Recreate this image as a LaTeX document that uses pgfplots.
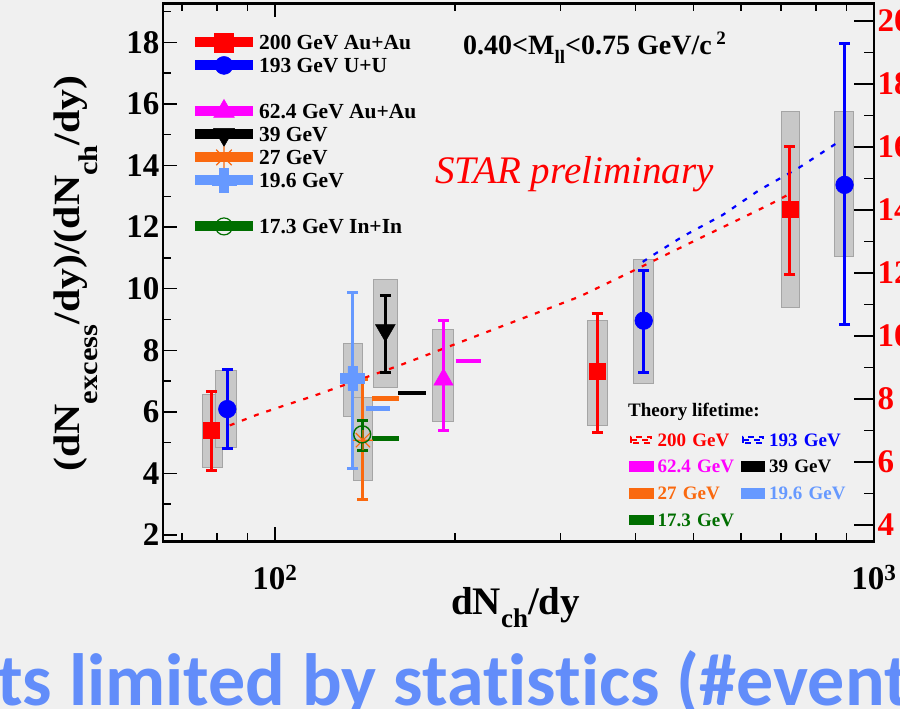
\documentclass[border=0pt]{standalone}
\usepackage{fontspec}
\setmainfont{Liberation Serif}
\newfontfamily\carlito[Ligatures=NoCommon]{Carlito}
\usepackage{pgfplots}
\pgfplotsset{compat=1.18}
\definecolor{bgcol}{RGB}{240,240,240}
\definecolor{boxfill}{RGB}{200,200,200}
\definecolor{boxdraw}{RGB}{165,165,165}
\definecolor{cred}{RGB}{255,0,0}
\definecolor{cblue}{RGB}{0,0,255}
\definecolor{cmag}{RGB}{255,0,255}
\definecolor{corange}{RGB}{250,105,15}
\definecolor{clblue}{RGB}{102,153,255}
\definecolor{cgreen}{RGB}{0,110,0}
\definecolor{slideblue}{RGB}{98,141,250}

\pgfdeclareplotmark{star8}{%
 \pgfpathmoveto{\pgfqpoint{-\pgfplotmarksize}{0pt}}\pgfpathlineto{\pgfqpoint{\pgfplotmarksize}{0pt}}%
 \pgfpathmoveto{\pgfqpoint{0pt}{-\pgfplotmarksize}}\pgfpathlineto{\pgfqpoint{0pt}{\pgfplotmarksize}}%
 \pgfpathmoveto{\pgfqpoint{-0.707\pgfplotmarksize}{-0.707\pgfplotmarksize}}\pgfpathlineto{\pgfqpoint{0.707\pgfplotmarksize}{0.707\pgfplotmarksize}}%
 \pgfpathmoveto{\pgfqpoint{-0.707\pgfplotmarksize}{0.707\pgfplotmarksize}}\pgfpathlineto{\pgfqpoint{0.707\pgfplotmarksize}{-0.707\pgfplotmarksize}}%
 \pgfusepathqstroke}
\pgfdeclareplotmark{fatcross}{%
 \pgfpathmoveto{\pgfqpoint{-0.38\pgfplotmarksize}{\pgfplotmarksize}}%
 \pgfpathlineto{\pgfqpoint{0.38\pgfplotmarksize}{\pgfplotmarksize}}%
 \pgfpathlineto{\pgfqpoint{0.38\pgfplotmarksize}{0.38\pgfplotmarksize}}%
 \pgfpathlineto{\pgfqpoint{\pgfplotmarksize}{0.38\pgfplotmarksize}}%
 \pgfpathlineto{\pgfqpoint{\pgfplotmarksize}{-0.38\pgfplotmarksize}}%
 \pgfpathlineto{\pgfqpoint{0.38\pgfplotmarksize}{-0.38\pgfplotmarksize}}%
 \pgfpathlineto{\pgfqpoint{0.38\pgfplotmarksize}{-\pgfplotmarksize}}%
 \pgfpathlineto{\pgfqpoint{-0.38\pgfplotmarksize}{-\pgfplotmarksize}}%
 \pgfpathlineto{\pgfqpoint{-0.38\pgfplotmarksize}{-0.38\pgfplotmarksize}}%
 \pgfpathlineto{\pgfqpoint{-\pgfplotmarksize}{-0.38\pgfplotmarksize}}%
 \pgfpathlineto{\pgfqpoint{-\pgfplotmarksize}{0.38\pgfplotmarksize}}%
 \pgfpathlineto{\pgfqpoint{-0.38\pgfplotmarksize}{0.38\pgfplotmarksize}}%
 \pgfpathclose\pgfusepathqfillstroke}

\pgfplotsset{
 sysbox/.style={fill=boxfill, draw=boxdraw, line width=0.8pt, forget plot},
 theo/.style={line width=4.5pt, forget plot},
 dat/.style={only marks, forget plot, mark options={solid, line width=0.6pt},
   error bars/y dir=both, error bars/y explicit,
   error bars/error bar style={line width=3pt},
   error bars/error mark options={rotate=90, mark size=5.5pt, line width=3pt}},
}

\begin{document}
\begin{tikzpicture}[x=1pt,y=1pt]
\useasboundingbox (0,0) rectangle (900,709);
\clip (0,0) rectangle (900,709);
\fill[bgcol] (0,0) rectangle (900,709);
\node[anchor=base west, text=slideblue, font=\carlito\bfseries\fontsize{74}{74}\selectfont, inner sep=0pt] at (-3,3) {ts limited by statistics (\#event};

\begin{axis}[
 at={(163pt,167.5pt)}, anchor=south west, scale only axis,
 width=711pt, height=538pt,
 xmode=log, xmin=65.07, xmax=1000, ymin=1.79, ymax=19.26,
 axis line style={line width=2.4pt},
 tick style={line width=1.5pt, black},
 major tick length=14pt, minor tick length=8pt,
 tick align=inside,
 ytick={2,4,...,18}, minor ytick={3,5,...,19}, ytick pos=left,
 xtick={100,1000}, xticklabels={10\textsuperscript{2},10\textsuperscript{3}},
 minor xtick={70,80,90,200,300,400,500,600,700,800,900},
 xtick pos=both,
 /pgf/number format/assume math mode=true,
 ticklabel style={font=\bfseries\fontsize{33}{33}\selectfont},
 xticklabel style={yshift=-20pt},
 xlabel={dN\raisebox{-13pt}{\fontsize{27}{27}\selectfont ch}/dy},
 xlabel style={font=\bfseries\fontsize{39}{39}\selectfont, at={(axis description cs:0.496,-0.1366)}, anchor=base},
 legend cell align=left,
 legend style={at={(0.045,0.949)}, anchor=north west, draw=none, fill=none,
   inner sep=0pt, outer sep=0pt, row sep=0pt, column sep=0pt,
   font=\bfseries\fontsize{21.5}{21.5}\selectfont,
   nodes={inner sep=0pt, text height=18.65pt, text depth=4.35pt},
   /tikz/every odd column/.append style={column sep=6pt}},
 legend image code/.code={%
   \draw[overlay,mark repeat=2,mark phase=2] plot coordinates {(0pt,0pt) (27pt,0pt) (54pt,0pt)};
   \path (0pt,-3pt) rectangle (54pt,3pt);},
]
% legend images
\addlegendimage{cred, line width=4pt, mark=square*, mark size=9.5pt, mark options={solid,line width=0.5pt}}
\addlegendentry{200 GeV Au+Au}
\addlegendimage{cblue, line width=4pt, mark=*, mark size=9pt, mark options={solid,line width=0.5pt}}
\addlegendentry{193 GeV U+U}
\addlegendimage{empty legend}
\addlegendentry{}
\addlegendimage{cmag, line width=4pt, mark=triangle*, mark size=12pt, mark options={solid,line width=0.5pt}}
\addlegendentry{62.4 GeV Au+Au}
\addlegendimage{black, line width=4pt, mark=triangle*, mark size=12pt, mark options={solid,line width=0.5pt, rotate=180}}
\addlegendentry{39 GeV}
\addlegendimage{corange, line width=4pt, mark=star8, mark size=11pt, mark options={solid,line width=1.2pt}}
\addlegendentry{27 GeV}
\addlegendimage{clblue, line width=4pt, mark=fatcross, mark size=12pt, mark options={solid,line width=0.5pt}}
\addlegendentry{19.6 GeV}
\addlegendimage{empty legend}
\addlegendentry{}
\addlegendimage{cgreen, line width=4pt, mark=o, mark size=8.5pt, mark options={solid,line width=1.2pt}}
\addlegendentry{17.3 GeV In+In}

% systematic boxes
\addplot[sysbox] coordinates {(75.8,4.20) (81.8,4.20) (81.8,6.57) (75.8,6.57)} -- cycle;
\addplot[sysbox] coordinates {(79.6,4.85) (86.4,4.85) (86.4,7.36) (79.6,7.36)} -- cycle;
\addplot[sysbox] coordinates {(130.0,5.84) (139.8,5.84) (139.8,8.22) (130.0,8.22)} -- cycle;
\addplot[sysbox] coordinates {(135.1,3.79) (145.3,3.79) (145.3,6.47) (135.1,6.47)} -- cycle;
\addplot[sysbox] coordinates {(145.8,6.78) (159.9,6.78) (159.9,10.30) (145.8,10.30)} -- cycle;
\addplot[sysbox] coordinates {(183.2,5.70) (198.8,5.70) (198.8,8.69) (183.2,8.69)} -- cycle;
\addplot[sysbox] coordinates {(332.8,5.57) (359.3,5.57) (359.3,8.98) (332.8,8.98)} -- cycle;
\addplot[sysbox] coordinates {(397.0,6.93) (428.7,6.93) (428.7,10.95) (397.0,10.95)} -- cycle;
\addplot[sysbox] coordinates {(700.7,9.38) (751.9,9.38) (751.9,15.74) (700.7,15.74)} -- cycle;
\addplot[sysbox] coordinates {(860.2,11.06) (925.1,11.06) (925.1,15.74) (860.2,15.74)} -- cycle;

% theory curves
\addplot[cred, line width=2.2pt, dash pattern=on 5pt off 8pt, forget plot] coordinates {
 (84.1,5.56) (93.2,5.90) (103.9,6.21) (115.8,6.51) (129.2,6.84) (161.6,7.51) (179.0,7.84)
 (234.2,8.71) (322.4,9.74) (390.6,10.52) (501.2,11.55) (619.2,12.41) (686.6,12.84) (721.6,13.07)};
\addplot[cblue, line width=2.2pt, dash pattern=on 5pt off 8pt, forget plot] coordinates {
 (411.1,10.87) (432.7,11.15) (479.0,11.69) (558.7,12.39) (643.3,13.20) (750.0,13.93) (868.7,14.74)};
\addplot[theo, cmag] coordinates {(200.3,7.65) (221.1,7.65)};
\addplot[theo, black] coordinates {(160.6,6.62) (179.0,6.62)};
\addplot[theo, corange] coordinates {(145.5,6.43) (160.9,6.43)};
\addplot[theo, clblue] coordinates {(141.8,6.11) (155.9,6.11)};
\addplot[theo, cgreen] coordinates {(145.5,5.13) (160.9,5.13)};

% data
\addplot[clblue, mark=fatcross, mark size=12pt, dat] table[x=x,y=y,y error plus=ep,y error minus=em] {
x y ep em
134.8 7.09 2.78 2.92
};
\addplot[corange, mark=star8, mark size=10pt, dat, mark options={line width=1.2pt}] table[x=x,y=y,y error plus=ep,y error minus=em] {
x y ep em
140.3 5.08 1.98 1.92
};
\addplot[cgreen, mark=o, mark size=8.5pt, dat, mark options={line width=1.4pt}] table[x=x,y=y,y error plus=ep,y error minus=em] {
x y ep em
139.9 5.27 0.46 0.51
};
\addplot[black, mark=triangle*, mark size=11.5pt, dat, mark options={rotate=180}] table[x=x,y=y,y error plus=ep,y error minus=em] {
x y ep em
152.9 8.65 1.14 1.38
};
\addplot[cmag, mark=triangle*, mark size=11pt, dat] table[x=x,y=y,y error plus=ep,y error minus=em] {
x y ep em
191.2 7.05 1.91 1.66
};
\addplot[cred, mark=square*, mark size=8pt, dat] table[x=x,y=y,y error plus=ep,y error minus=em] {
x y ep em
78.4 5.41 1.24 1.32
345.0 7.33 1.87 1.99
724.0 12.57 2.03 2.10
};
\addplot[cblue, mark=*, mark size=8.8pt, dat] table[x=x,y=y,y error plus=ep,y error minus=em] {
x y ep em
83.3 6.09 1.29 1.28
412.7 8.96 1.64 1.69
893.0 13.37 4.58 4.53
};
\end{axis}

\begin{axis}[
 at={(163pt,167.5pt)}, anchor=south west, scale only axis,
 width=711pt, height=538pt,
 xmode=log, xmin=65.07, xmax=1000, ymin=3.476, ymax=20.556,
 axis x line=none, axis y line*=right,
 axis line style={line width=2.4pt, -},
 tick style={line width=1.5pt, black},
 major tick length=20pt, minor tick length=10pt,
 tick align=inside,
 ytick={4,6,...,20}, minor ytick={5,7,...,19},
 /pgf/number format/assume math mode=true,
 yticklabel style={font=\bfseries\fontsize{33}{33}\selectfont, text=cred},
 legend cell align=left,
 legend columns=2,
 legend style={at={(0.6554,0.2135)}, anchor=north west, draw=none, fill=none,
   inner sep=0pt, outer sep=0pt, row sep=0pt, column sep=0pt,
   font=\bfseries\fontsize{19}{19}\selectfont,
   nodes={inner sep=0pt, text height=19.65pt, text depth=7.05pt, text width=83pt},
   /tikz/every odd column/.append style={column sep=4pt}},
 legend image code/.code={%
   \draw[overlay] (0pt,0pt) -- (18pt,0pt);
   \path (0pt,-3pt) rectangle (20pt,3pt);},
]
\addlegendimage{cred, line width=2.2pt, dash pattern=on 6pt off 5pt}
\addlegendentry{\textcolor{cred}{200 GeV}}
\addlegendimage{cblue, line width=2.2pt, dash pattern=on 6pt off 5pt}
\addlegendentry{\textcolor{cblue}{193 GeV}}
\addlegendimage{cmag, line width=4.5pt}
\addlegendentry{\textcolor{cmag}{62.4 GeV}}
\addlegendimage{black, line width=4.5pt}
\addlegendentry{39 GeV}
\addlegendimage{corange, line width=4.5pt}
\addlegendentry{\textcolor{corange}{27 GeV}}
\addlegendimage{clblue, line width=4.5pt}
\addlegendentry{\textcolor{clblue}{19.6 GeV}}
\addlegendimage{cgreen, line width=4.5pt}
\addlegendentry{\textcolor{cgreen}{17.3 GeV}}
\end{axis}

\node[rotate=90, anchor=base, inner sep=0pt, font=\bfseries\fontsize{37}{37}\selectfont] at (79,435.5)
 {\scalebox{1.13}[1]{(dN\raisebox{-18pt}{\fontsize{27}{27}\selectfont excess}/dy)/(dN\raisebox{-18pt}{\fontsize{27}{27}\selectfont ch}/dy)}};
\node[anchor=base west, inner sep=0pt, font=\bfseries\fontsize{28}{28}\selectfont] at (463,654)
 {0.40<M\raisebox{-9pt}{\fontsize{19}{19}\selectfont ll}<0.75 GeV/c\,\raisebox{10pt}{\fontsize{19}{19}\selectfont 2}};
\node[anchor=base west, inner sep=0pt, text=cred, font=\itshape\fontsize{39}{39}\selectfont] at (435,525.7) {STAR preliminary};
\node[anchor=base west, inner sep=0pt, font=\bfseries\fontsize{19}{19}\selectfont] at (628,292.3) {Theory lifetime:};
\end{tikzpicture}
\end{document}
